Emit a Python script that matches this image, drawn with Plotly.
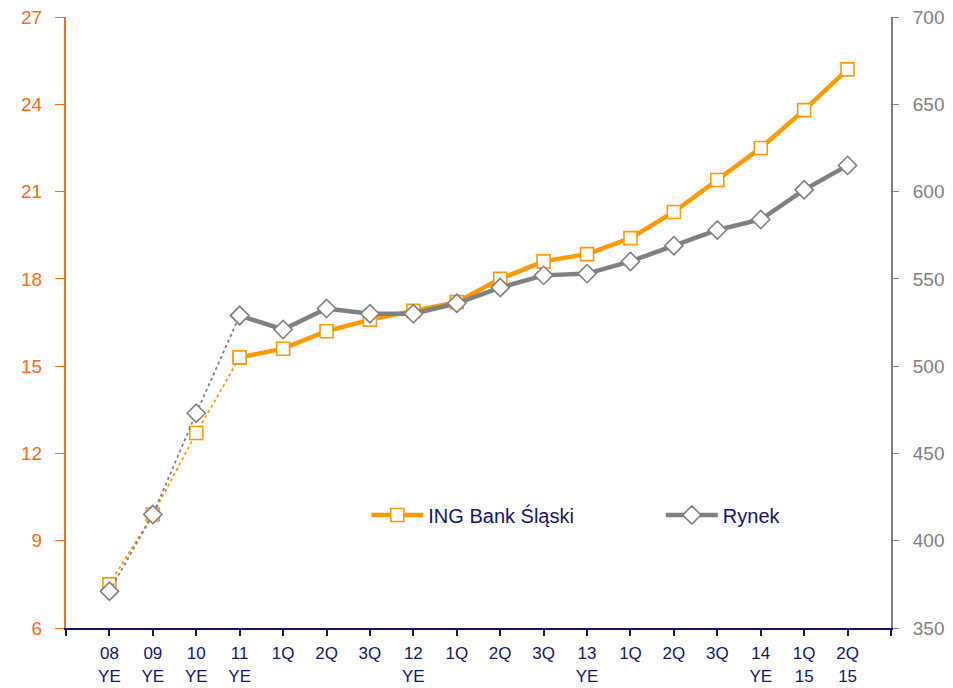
import plotly.graph_objects as go

categories = ["08<br>YE", "09<br>YE", "10<br>YE", "11<br>YE", "1Q", "2Q", "3Q", "12<br>YE",
              "1Q", "2Q", "3Q", "13<br>YE", "1Q", "2Q", "3Q", "14<br>YE", "1Q<br>15", "2Q<br>15"]
ing_values = [7.5, 9.9, 12.7, 15.3, 15.6, 16.2, 16.6, 16.9, 17.2, 18.0, 18.6, 18.85,
              19.4, 20.3, 21.4, 22.5, 23.8, 25.2]
rynek_values = [371, 415, 473, 529, 521, 533, 530, 530, 536, 545, 552, 553,
                560, 569, 578, 584, 601, 615]
left_ticks = [6, 9, 12, 15, 18, 21, 24, 27]
right_ticks = [350, 400, 450, 500, 550, 600, 650, 700]

idx = list(range(len(categories)))
ORANGE = "#FF9900"
GRAY = "#808080"
NAVY = "#14146E"
LEFTC = "#FF6A13"
FONT = "Liberation Sans, Arial, sans-serif"

fig = go.Figure()

fig.add_trace(go.Scatter(
    x=idx[:4], y=ing_values[:4], mode="lines+markers", yaxis="y", showlegend=False,
    line=dict(color=ORANGE, width=1.8, dash="dot"),
    marker=dict(symbol="square", size=13, color="white", line=dict(color=ORANGE, width=1.6)),
    hoverinfo="skip"))
fig.add_trace(go.Scatter(
    x=idx[3:], y=ing_values[3:], mode="lines+markers", yaxis="y", name="ING Bank Śląski",
    legend="legend",
    line=dict(color=ORANGE, width=4.5),
    marker=dict(symbol="square", size=13, color="white", line=dict(color=ORANGE, width=1.6))))
fig.add_trace(go.Scatter(
    x=idx[:4], y=rynek_values[:4], mode="lines+markers", yaxis="y2", showlegend=False,
    line=dict(color=GRAY, width=1.8, dash="dot"),
    marker=dict(symbol="diamond", size=14, color="white", line=dict(color=GRAY, width=1.6)),
    hoverinfo="skip"))
fig.add_trace(go.Scatter(
    x=idx[3:], y=rynek_values[3:], mode="lines+markers", yaxis="y2", name="Rynek",
    legend="legend2",
    line=dict(color=GRAY, width=4.5),
    marker=dict(symbol="diamond", size=14, color="white", line=dict(color=GRAY, width=1.6))))

legend_common = dict(
    orientation="h", yanchor="middle", xanchor="left",
    font=dict(family=FONT, size=20, color=NAVY),
    bgcolor="rgba(0,0,0,0)", itemwidth=52,
)

fig.update_layout(
    width=953, height=688,
    margin=dict(l=58, r=70, t=9, b=68, autoexpand=False),
    plot_bgcolor="white", paper_bgcolor="white",
    font=dict(family=FONT, size=17, color=NAVY),
    xaxis=dict(
        range=[-1, len(categories)], tickmode="array",
        tickvals=[-1] + idx + [len(categories)],
        ticktext=[""] + categories + [""],
        showline=True, linecolor=NAVY, linewidth=2,
        ticks="outside", ticklen=6, tickcolor=NAVY, tickwidth=1.5,
        showgrid=False, zeroline=False, automargin=False,
        ticklabeloverflow="allow", ticklabelstandoff=3,
        tickfont=dict(family=FONT, size=17, color=NAVY),
    ),
    yaxis=dict(
        range=[6, 27], tickvals=left_ticks,
        showline=True, linecolor=LEFTC, linewidth=2,
        ticks="outside", ticklen=9, tickcolor=LEFTC,
        showgrid=False, zeroline=False, automargin=False,
        ticklabeloverflow="allow", ticklabelstandoff=9,
        tickfont=dict(family=FONT, size=19, color=LEFTC),
    ),
    yaxis2=dict(
        range=[350, 700], tickvals=right_ticks, overlaying="y", side="right",
        showline=True, linecolor=GRAY, linewidth=2,
        ticks="outside", ticklen=6, tickcolor=GRAY,
        showgrid=False, zeroline=False, automargin=False,
        ticklabeloverflow="allow", ticklabelstandoff=10,
        tickfont=dict(family=FONT, size=19, color=GRAY),
    ),
    legend=dict(x=0.364, y=0.185, **legend_common),
    legend2=dict(x=0.721, y=0.185, **legend_common),
    showlegend=True,
)

fig.write_html("out.html")
